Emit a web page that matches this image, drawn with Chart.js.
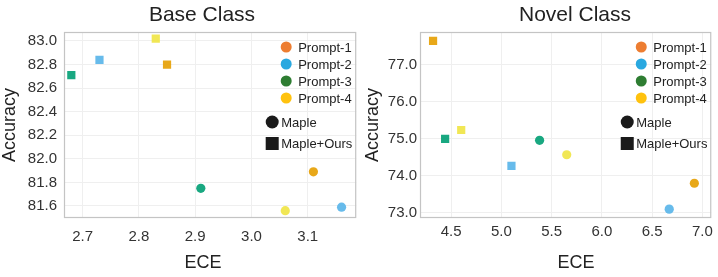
<!DOCTYPE html>
<html>
<head>
<meta charset="utf-8">
<script src="https://cdn.jsdelivr.net/npm/chart.js@4.4.1/dist/chart.umd.min.js"></script>
<style>
  html, body { margin: 0; padding: 0; background: #fff; }
  #wrap { position: relative; width: 718px; height: 277px; overflow: hidden; }
  canvas { position: absolute; top: 0; }
</style>
</head>
<body>
<div id="wrap">
  <canvas id="baseChart" width="362" height="277" style="left:0"></canvas>
  <canvas id="novelChart" width="358" height="277" style="left:360px"></canvas>
</div>
<script>
// series data
const prompts = ['Prompt-1', 'Prompt-2', 'Prompt-3', 'Prompt-4'];
const pointColors = ['rgba(230,159,0,0.9)', 'rgba(86,180,233,0.9)', 'rgba(0,158,115,0.9)', 'rgba(240,228,66,0.9)'];
const legendColors = ['#ED7D31', '#29A8E0', '#2E7D32', '#FFC20E'];

const baseMapleECE = [3.11, 3.16, 2.91, 3.06];
const baseMapleAcc = [81.89, 81.59, 81.75, 81.56];
const baseOursECE = [2.85, 2.73, 2.68, 2.83];
const baseOursAcc = [82.80, 82.84, 82.71, 83.02];

const novelMapleECE = [6.92, 6.67, 5.38, 5.65];
const novelMapleAcc = [73.80, 73.10, 74.96, 74.57];
const novelOursECE = [4.32, 5.10, 4.44, 4.60];
const novelOursAcc = [77.65, 74.27, 75.00, 75.24];

const baseXTicks = [2.7, 2.8, 2.9, 3.0, 3.1];
const baseYTicks = [81.6, 81.8, 82.0, 82.2, 82.4, 82.6, 82.8, 83.0];
const novelXTicks = [4.5, 5.0, 5.5, 6.0, 6.5, 7.0];
const novelYTicks = [73.0, 74.0, 75.0, 76.0, 77.0];

const methods = ['Maple', 'Maple+Ours'];

const TICK_FONT = { family: 'Liberation Sans, Arial, sans-serif', size: 15 };
const TEXT = '#222';

function toPoints(xs, ys) {
    return xs.map((x, i) => ({ x: x, y: ys[i] }));
}

// frame, titles, axis names and the custom legend
function panelPlugin(p) {
    return {
        id: 'panelDecor',
        beforeDatasetsDraw(chart) {
            const a = chart.chartArea;
            const ctx = chart.ctx;
            ctx.save();
            ctx.strokeStyle = '#c4c4c4';
            ctx.lineWidth = 1.2;
            ctx.strokeRect(a.left + 0.5, a.top + 0.5, a.right - a.left - 1, a.bottom - a.top - 1);
            ctx.restore();
        },
        afterDraw(chart) {
            const a = chart.chartArea;
            const ctx = chart.ctx;
            ctx.save();
            ctx.fillStyle = TEXT;
            ctx.textAlign = 'center';
            ctx.textBaseline = 'alphabetic';
            ctx.font = '21px "Liberation Sans", Arial, sans-serif';
            ctx.fillText(p.title, p.titleX, 21);
            ctx.font = '18px "Liberation Sans", Arial, sans-serif';
            ctx.fillText('ECE', p.titleX + 1, 268);
            ctx.save();
            ctx.translate(p.accX, (a.top + a.bottom) / 2);
            ctx.rotate(-Math.PI / 2);
            ctx.textBaseline = 'middle';
            ctx.fillText('Accuracy', 0, 0);
            ctx.restore();

            // legend
            ctx.font = '13px "Liberation Sans", Arial, sans-serif';
            ctx.textAlign = 'left';
            ctx.textBaseline = 'middle';
            const rows = [47, 64, 81, 98];
            prompts.forEach((name, i) => {
                ctx.fillStyle = legendColors[i];
                ctx.beginPath();
                ctx.arc(a.right - 70, rows[i], 5.5, 0, Math.PI * 2);
                ctx.fill();
                ctx.fillStyle = TEXT;
                ctx.fillText(name, a.right - 58, rows[i] + 1);
            });
            ctx.fillStyle = '#1a1a1a';
            ctx.beginPath();
            ctx.arc(a.right - 84, 122, 6.5, 0, Math.PI * 2);
            ctx.fill();
            ctx.fillRect(a.right - 90.5, 137, 13, 13);
            ctx.fillStyle = TEXT;
            ctx.fillText(methods[0], a.right - 75, 123);
            ctx.fillText(methods[1], a.right - 75, 144);
            ctx.restore();
        }
    };
}

function makeChart(id, opts) {
    const ctx = document.getElementById(id).getContext('2d');
    return new Chart(ctx, {
        type: 'scatter',
        data: {
            datasets: [
                {
                    label: methods[0],
                    data: toPoints(opts.mapleX, opts.mapleY),
                    backgroundColor: pointColors,
                    borderWidth: 0,
                    pointStyle: 'circle',
                    pointRadius: 4.6,
                    pointHoverRadius: 4.6
                },
                {
                    label: methods[1],
                    data: toPoints(opts.oursX, opts.oursY),
                    backgroundColor: pointColors,
                    borderWidth: 0,
                    pointStyle: 'rect',
                    pointRadius: 5.8,
                    pointHoverRadius: 5.8
                }
            ]
        },
        options: {
            responsive: false,
            animation: false,
            layout: { padding: { top: 32, right: opts.padRight, left: 0, bottom: 0 } },
            plugins: {
                legend: { display: false },
                tooltip: { enabled: false }
            },
            scales: {
                x: {
                    type: 'linear',
                    min: opts.xMin,
                    max: opts.xMax,
                    afterBuildTicks: s => { s.ticks = opts.xTicks.map(v => ({ value: v })); },
                    afterFit: s => { s.height = 59; },
                    grid: { color: '#efefef', drawTicks: false },
                    border: { display: false },
                    ticks: {
                        font: TICK_FONT,
                        color: '#333',
                        padding: opts.xPad,
                        callback: v => v.toFixed(1)
                    }
                },
                y: {
                    type: 'linear',
                    min: opts.yMin,
                    max: opts.yMax,
                    afterBuildTicks: s => { s.ticks = opts.yTicks.map(v => ({ value: v })); },
                    afterFit: s => { s.width = opts.yWidth; },
                    grid: { color: '#efefef', drawTicks: false },
                    border: { display: false },
                    ticks: {
                        font: TICK_FONT,
                        color: '#333',
                        padding: opts.yPad,
                        callback: v => v.toFixed(1)
                    }
                }
            }
        },
        plugins: [panelPlugin(opts)]
    });
}

makeChart('baseChart', {
    title: 'Base Class', titleX: 202, accX: 10,
    mapleX: baseMapleECE, mapleY: baseMapleAcc,
    oursX: baseOursECE, oursY: baseOursAcc,
    xMin: 2.667, xMax: 3.186, yMin: 81.498, yMax: 83.076,
    xTicks: baseXTicks, yTicks: baseYTicks,
    yWidth: 64, padRight: 2, xPad: 10, yPad: 7
});

makeChart('novelChart', {
    title: 'Novel Class', titleX: 215, accX: 13,
    mapleX: novelMapleECE, mapleY: novelMapleAcc,
    oursX: novelOursECE, oursY: novelOursAcc,
    xMin: 4.19, xMax: 7.088, yMin: 72.86, yMax: 77.89,
    xTicks: novelXTicks, yTicks: novelYTicks,
    yWidth: 60, padRight: 1, xPad: 5, yPad: 3
});
</script>
</body>
</html>
